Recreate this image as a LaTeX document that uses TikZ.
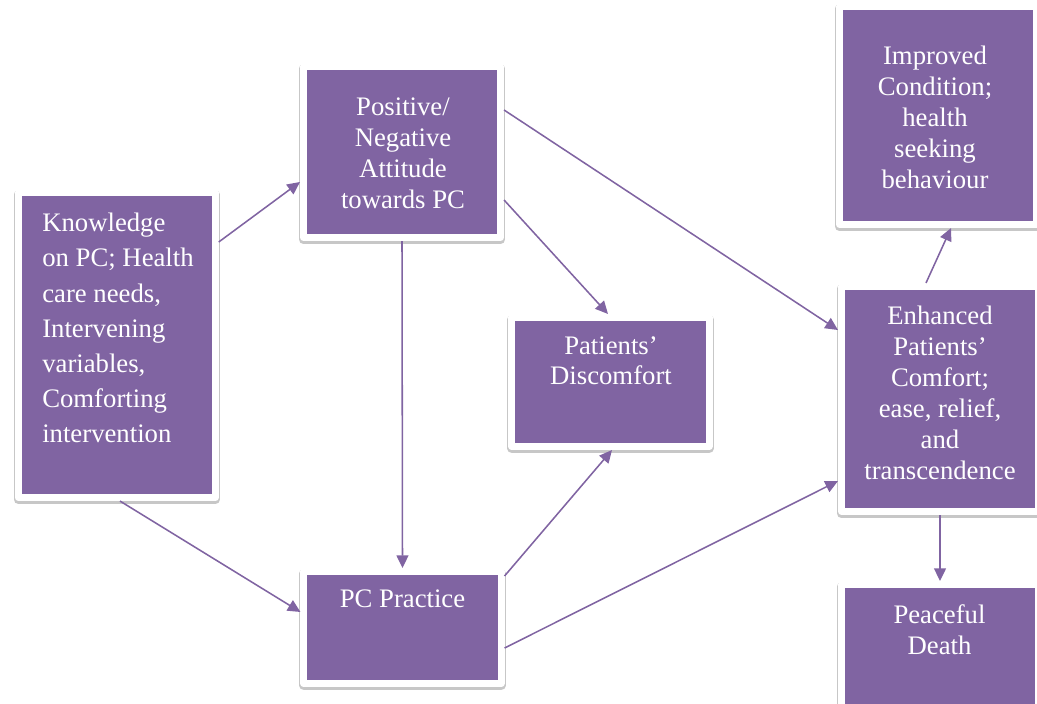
\documentclass[tikz,border=0pt]{standalone}
\usepackage{fontspec}
\setmainfont{Liberation Serif}
\usetikzlibrary{arrows.meta}
\definecolor{boxpurple}{HTML}{8064A2}

\begin{document}
\begin{tikzpicture}[x=0.025cm, y=-0.025cm,
  box/.style={fill=boxpurple, draw=white, line width=5pt, line join=round,
    minimum width=4.925cm, inner sep=0pt,
    preaction={draw=black!22, line width=6.5pt, line join=round, transform canvas={yshift=-1.5pt}}},
  boxtext/.style={text=white, inner sep=0pt, align=center, anchor=north,
    font=\fontsize{19}{22}\selectfont},
  link/.style={-{Triangle[length=9pt, width=8.5pt]}, draw=boxpurple, line width=1.1pt}]
\useasboundingbox (0,0) rectangle (1037,703);

% boxes
\node[box, minimum height=7.625cm] (know) at (116.7,345) {};
\node[box, minimum height=4.275cm] (att) at (402,152) {};
\node[box, minimum height=5.45cm] (imp) at (938,115.5) {};
\node[box, minimum height=5.625cm] (enh) at (940,399) {};
\node[box, minimum height=3.225cm] (disc) at (610.5,382) {};
\node[box, minimum height=2.8cm] (pcp) at (402.5,627.5) {};
\node[box, minimum height=3.425cm] (peace) at (940,653) {};

% texts
\node[boxtext, anchor=north west, align=left, font=\fontsize{19}{25}\selectfont] (know-t) at (42,213)
  {Knowledge\\ on PC; Health\\ care needs,\\ Intervening\\ variables,\\ Comforting\\ intervention};
\node[boxtext] (att-t) at (403,98) {Positive/\\ Negative\\ Attitude\\ towards PC};
\node[boxtext] (imp-t) at (935,46) {Improved\\ Condition;\\ health\\ seeking\\ behaviour};
\node[boxtext] (enh-t) at (940,306) {Enhanced\\ Patients’\\ Comfort;\\ ease, relief,\\ and\\ transcendence};
\node[boxtext] (disc-t) at (611,336) {Patients’\\ Discomfort};
\node[boxtext] (pcp-t) at (402.5,590) {PC Practice};
\node[boxtext] (peace-t) at (939.5,604) {Peaceful\\ Death};

% links
\draw[link] (know.east |- 0,242) -- (att.west |- 0,182);
\draw[link] (120,0 |- know.south) -- (pcp.west |- 0,612);
\draw[link] (att.south) -- (pcp.north);
\draw[link] (att.east |- 0,200) -- (608,0 |- disc.north);
\draw[link] (att.east |- 0,110) -- (enh.west |- 0,330);
\draw[link] (pcp.east |- 0,576) -- (612,0 |- disc.south);
\draw[link] (pcp.east |- 0,648) -- (enh.west |- 0,481);
\draw[link] (926,0 |- enh.north) -- (951,0 |- imp.south);
\draw[link] (enh.south) -- (peace.north);
\end{tikzpicture}
\end{document}
